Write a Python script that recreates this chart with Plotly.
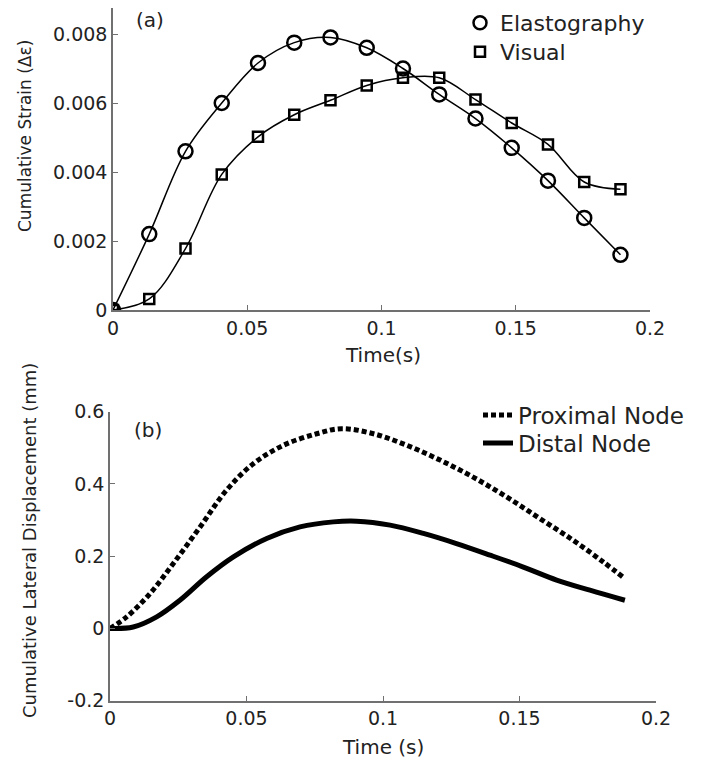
import plotly.graph_objects as go

# ---- Panel (a) data ----
time_a = [0.0, 0.0135, 0.027, 0.0405, 0.054, 0.0675, 0.081, 0.0945, 0.108,
          0.1215, 0.135, 0.1485, 0.162, 0.1755, 0.189]
elastography = [0.0, 0.0022, 0.0046, 0.0060, 0.00716, 0.00775, 0.0079, 0.0076,
                0.0070, 0.00625, 0.00555, 0.0047, 0.00375, 0.00267, 0.0016]
visual = [0.0, 0.00032, 0.00178, 0.00393, 0.00502, 0.00566, 0.00608, 0.00651,
          0.00673, 0.00673, 0.0061, 0.00542, 0.0048, 0.00371, 0.0035]

# ---- Panel (b) data ----
time_prox = [0.0, 0.0061, 0.0147, 0.0232, 0.033, 0.0427, 0.0525, 0.0635, 0.0757,
             0.0848, 0.0965, 0.1087, 0.1209, 0.133, 0.1453, 0.1575, 0.1697, 0.1807, 0.1886]
proximal = [0.0, 0.032, 0.097, 0.18, 0.281, 0.383, 0.456, 0.507, 0.539,
            0.553, 0.539, 0.507, 0.466, 0.419, 0.364, 0.304, 0.244, 0.184, 0.138]
time_dist = [0.0, 0.0085, 0.0171, 0.0256, 0.0354, 0.0452, 0.0574, 0.0696, 0.0818,
             0.0903, 0.1026, 0.1148, 0.1269, 0.1392, 0.1514, 0.1636, 0.1758, 0.1886]
distal = [0.0, 0.004, 0.032, 0.078, 0.143, 0.198, 0.249, 0.281, 0.295,
          0.297, 0.286, 0.263, 0.235, 0.203, 0.17, 0.134, 0.106, 0.078]

x_ticks = [0, 0.05, 0.1, 0.15, 0.2]
x_ticklabels = ["0", "0.05", "0.1", "0.15", "0.2"]
ya_ticks = [0, 0.002, 0.004, 0.006, 0.008]
ya_ticklabels = ["0", "0.002", "0.004", "0.006", "0.008"]
yb_ticks = [-0.2, 0, 0.2, 0.4, 0.6]
yb_ticklabels = ["-0.2", "0", "0.2", "0.4", "0.6"]

FONT = "DejaVu Sans"
TXT = "#222222"
AX = "#707070"
OFF = 8                      # page body margin in the browser
W, H = 713 - OFF, 762 - OFF


def px(x):
    return (x - OFF) / W


def py(y):
    return 1 - (y - OFF) / H


fig = go.Figure()

fig.add_trace(go.Scatter(
    x=time_a, y=elastography, name="Elastography", mode="lines+markers",
    line=dict(color="black", width=1.5, shape="spline"),
    marker=dict(symbol="circle-open", size=14, color="black", line=dict(width=2.5)),
    xaxis="x", yaxis="y", showlegend=False))
fig.add_trace(go.Scatter(
    x=time_a, y=visual, name="Visual", mode="lines+markers",
    line=dict(color="black", width=1.5, shape="spline"),
    marker=dict(symbol="square-open", size=10, color="black", line=dict(width=2.5)),
    xaxis="x", yaxis="y", showlegend=False))
# marker-only legend entries
fig.add_trace(go.Scatter(
    x=[None], y=[None], name="Elastography", mode="markers",
    marker=dict(symbol="circle-open", size=13, color="black", line=dict(width=2.5)),
    xaxis="x", yaxis="y", legend="legend"))
fig.add_trace(go.Scatter(
    x=[None], y=[None], name="Visual", mode="markers",
    marker=dict(symbol="square-open", size=10, color="black", line=dict(width=2.5)),
    xaxis="x", yaxis="y", legend="legend3"))

fig.add_trace(go.Scatter(
    x=time_prox, y=proximal, name="Proximal Node", mode="lines",
    line=dict(color="black", width=5, dash="5px,3px", shape="spline"),
    xaxis="x2", yaxis="y2", legend="legend2"))
fig.add_trace(go.Scatter(
    x=time_dist, y=distal, name="Distal Node", mode="lines",
    line=dict(color="black", width=5, shape="spline"),
    xaxis="x2", yaxis="y2", legend="legend4"))

axis_common = dict(showline=True, linecolor=AX, linewidth=1.5, ticks="inside",
                   tickcolor=AX, ticklen=5, tickwidth=1.2, showgrid=False,
                   zeroline=False, mirror=False, automargin=False,
                   tickfont=dict(family=FONT, size=19, color=TXT))


def leg(x, y, size):
    return dict(x=px(x), y=py(y), xanchor="left", yanchor="middle",
                bgcolor="rgba(0,0,0,0)", font=dict(family=FONT, size=size, color=TXT),
                itemwidth=30, tracegroupgap=0, borderwidth=0)


def ann(text, x, y, size, angle=0):
    return dict(text=text, x=px(x), y=py(y), xref="paper", yref="paper",
                xanchor="center", yanchor="middle", textangle=angle,
                showarrow=False, font=dict(family=FONT, size=size, color=TXT))


fig.update_layout(
    width=W, height=H, margin=dict(l=0, r=0, t=0, b=0, autoexpand=False),
    paper_bgcolor="white", plot_bgcolor="white",
    font=dict(family=FONT, size=18, color=TXT),
    xaxis=dict(axis_common, domain=[px(113), px(650)], range=[0, 0.2],
               tickvals=x_ticks, ticktext=x_ticklabels, anchor="y"),
    yaxis=dict(axis_common, domain=[py(310), py(OFF)], range=[0, 0.009 * (310 - OFF) / 310.5],
               tickvals=ya_ticks, ticktext=ya_ticklabels, anchor="x"),
    xaxis2=dict(axis_common, domain=[px(110), px(656)], range=[0, 0.2],
                tickvals=x_ticks, ticktext=x_ticklabels, anchor="y2"),
    yaxis2=dict(axis_common, domain=[py(700.7), py(411.7)], range=[-0.2, 0.6],
                tickvals=yb_ticks, ticktext=yb_ticklabels, anchor="x2"),
    legend=leg(460, 23, 22),
    legend3=leg(460, 52, 22),
    legend2=leg(478, 415, 23),
    legend4=leg(478, 443, 23),
    showlegend=True,
    annotations=[
        ann("(a)", 150, 20, 20),
        ann("(b)", 148, 430, 20),
        ann("Time(s)", 383, 355, 20),
        ann("Time (s)", 383, 747, 20),
        ann("Cumulative Strain (\u0394\u03b5)", 25, 136, 17, -90),
        ann("Cumulative Lateral Displacement (mm)", 29, 541, 18, -90),
    ],
)

fig.write_html("out.html")
